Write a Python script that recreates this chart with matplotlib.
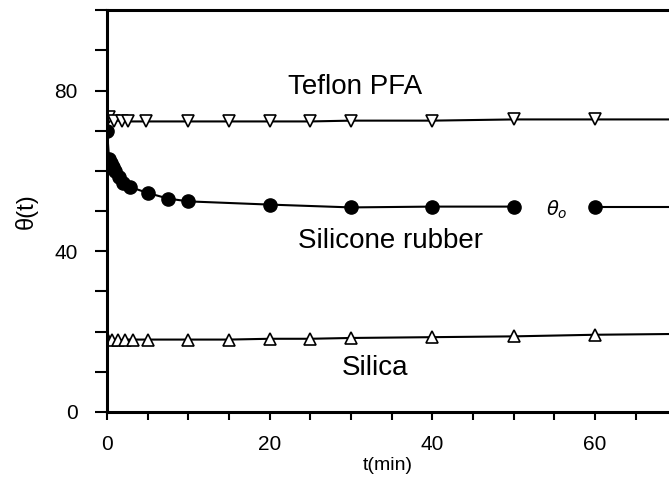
#!/usr/bin/env python3
"""Contact angle vs time for Teflon PFA, silicone rubber and silica."""
import matplotlib
matplotlib.use("Agg")
import matplotlib.pyplot as plt
from matplotlib.ticker import MultipleLocator

# Teflon PFA (open down-triangles); last point only carries the line to the edge
teflon_t = [0.3, 0.8, 1.8, 2.6, 4.8, 10, 15, 20, 25, 30, 40, 50, 60, 75]
teflon_y = [73.3, 72.5, 72.5, 72.3, 72.3, 72.3, 72.3, 72.3, 72.3, 72.5, 72.5, 72.8, 72.8, 72.8]

# Silicone rubber (filled circles)
rubber_t = [0, 0.25, 0.5, 0.75, 1, 1.5, 2, 2.8, 5, 7.5, 10, 20, 30, 40, 50, 60, 75]
rubber_y = [70, 63, 62, 61, 60, 58.5, 57, 56, 54.5, 53.1, 52.4, 51.6, 50.9, 51.1, 51.1, 51.1, 51.1]
rubber_gap = 15  # no line between 50 and 60 min, the theta_o label sits there

# Silica (open up-triangles)
silica_t = [0, 0.6, 1.4, 2.2, 3.2, 5, 10, 15, 20, 25, 30, 40, 50, 60, 75]
silica_y = [18.3, 18.0, 17.8, 18.0, 18.0, 18.0, 18.0, 18.0, 18.2, 18.2, 18.4, 18.6, 18.8, 19.2, 19.5]

plt.rcParams["font.family"] = ["Liberation Sans", "DejaVu Sans"]

fig = plt.figure(figsize=(6.69, 4.84), dpi=100)
ax = fig.add_axes([0.16, 0.149, 0.84, 0.83])

ax.plot(teflon_t, teflon_y, color="black", lw=1.5, marker="v", ms=9,
        mfc="white", mec="black", mew=1.2, markevery=slice(0, -1))
ax.plot(rubber_t[:rubber_gap], rubber_y[:rubber_gap], color="black", lw=1.5,
        marker="o", ms=9.5, mfc="black", mec="black")
ax.plot(rubber_t[rubber_gap:], rubber_y[rubber_gap:], color="black", lw=1.5,
        marker="o", ms=9.5, mfc="black", mec="black", markevery=slice(0, -1))
ax.plot(silica_t, silica_y, color="black", lw=1.5, marker="^", ms=9,
        mfc="white", mec="black", mew=1.2, markevery=slice(0, -1))

ax.text(30.5, 80.8, "Teflon PFA", fontsize=20, ha="center", va="center")
ax.text(34.8, 42.6, "Silicone rubber", fontsize=20, ha="center", va="center")
ax.text(32.9, 10.8, "Silica", fontsize=20, ha="center", va="center")
ax.text(55.3, 50.3, r"$\theta_o$", fontsize=14, ha="center", va="center")

ax.set_xlim(0, 69.1)
ax.set_ylim(0, 100)
ax.xaxis.set_major_locator(MultipleLocator(20))
ax.xaxis.set_minor_locator(MultipleLocator(5))
ax.yaxis.set_major_locator(MultipleLocator(40))
ax.yaxis.set_minor_locator(MultipleLocator(10))
ax.tick_params(which="both", direction="out", width=1.5, labelsize=15)
ax.tick_params(axis="x", which="both", length=6, pad=11)
ax.tick_params(axis="y", which="both", length=9, pad=12)

for side in ("left", "bottom", "top"):
    ax.spines[side].set_linewidth(2.2)
ax.spines["right"].set_visible(False)

ax.set_xlabel("t(min)", fontsize=14, labelpad=2)
ax.set_ylabel("θ(t)", fontsize=17, labelpad=12)

fig.savefig("out.png", dpi=100)
